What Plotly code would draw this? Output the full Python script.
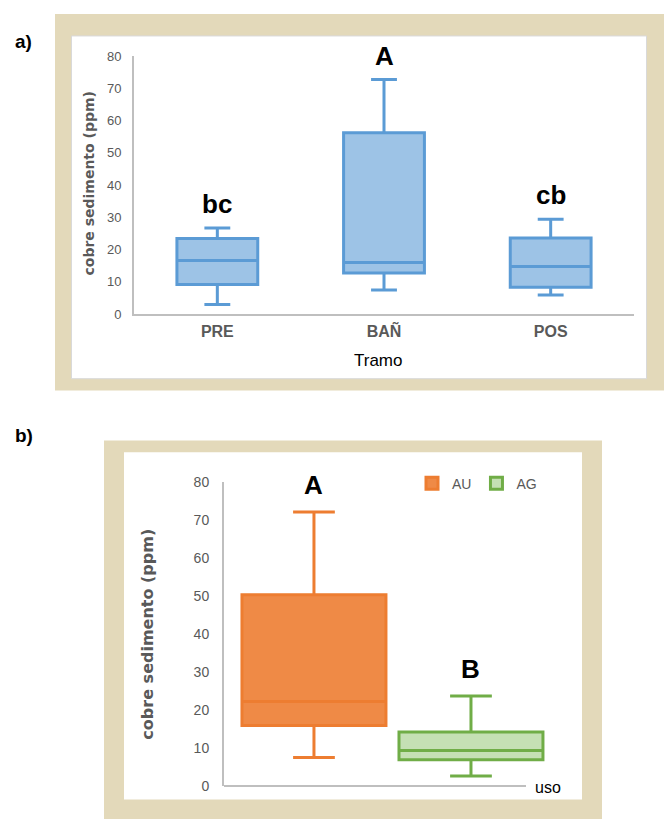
import plotly.graph_objects as go

# ---------------- data ----------------
# panel a) cobre sedimento (ppm) por tramo
tramos = ["PRE", "BAÑ", "POS"]
tramo_q1 = [9.1, 12.7, 8.3]
tramo_median = [16.6, 16.0, 14.7]
tramo_q3 = [23.4, 56.2, 23.6]
tramo_low = [2.9, 7.4, 5.9]
tramo_high = [26.7, 72.7, 29.4]
tramo_letters = ["bc", "A", "cb"]

# panel b) cobre sedimento (ppm) por uso
usos = ["AU", "AG"]
uso_q1 = [15.9, 6.9]
uso_median = [22.2, 9.3]
uso_q3 = [50.3, 14.2]
uso_low = [7.5, 2.6]
uso_high = [72.1, 23.7]
uso_letters = ["A", "B"]

y_ticks = [0, 10, 20, 30, 40, 50, 60, 70, 80]

# ---------------- styling ----------------
W, H = 664, 827
def px(x):
    return x / W
def py(y):
    return 1 - y / H

BEIGE = "#e3d9ba"
GRAY_TXT = "#595959"
AXIS_GRAY = "#bfbfbf"
BLUE_FILL = "#9dc3e6"
BLUE_LINE = "#5b9bd5"
uso_fill = ["#ef8a46", "#c5e0b4"]
uso_line = ["#ed7d31", "#70ad47"]

fig = go.Figure()

fig.add_trace(go.Box(
    x=tramos, q1=tramo_q1, median=tramo_median, q3=tramo_q3,
    lowerfence=tramo_low, upperfence=tramo_high,
    boxpoints=False, width=0.485, whiskerwidth=0.32,
    fillcolor=BLUE_FILL, line=dict(color=BLUE_LINE, width=3),
    xaxis="x", yaxis="y", showlegend=False, hoverinfo="skip",
))

for i, u in enumerate(usos):
    fig.add_trace(go.Box(
        x=[u], q1=[uso_q1[i]], median=[uso_median[i]], q3=[uso_q3[i]],
        lowerfence=[uso_low[i]], upperfence=[uso_high[i]],
        boxpoints=False, width=0.917, whiskerwidth=0.29,
        fillcolor=uso_fill[i], line=dict(color=uso_line[i], width=3),
        name=u, xaxis="x2", yaxis="y2", showlegend=True,
    ))

letter_font = dict(family="Liberation Sans", size=26, color="black", weight="bold")

annotations = []
for i, t in enumerate(tramos):
    annotations.append(dict(
        x=t, y=tramo_high[i], xref="x", yref="y", text=tramo_letters[i],
        showarrow=False, xanchor="center", yanchor="bottom", yshift=7, font=letter_font,
    ))
for i, u in enumerate(usos):
    annotations.append(dict(
        x=u, y=uso_high[i], xref="x2", yref="y2", text=uso_letters[i],
        showarrow=False, xanchor="center", yanchor="bottom", yshift=10, font=letter_font,
    ))

def label(x, y, text, font, angle=0):
    return dict(x=px(x), y=py(y), xref="paper", yref="paper", text=text,
                textangle=angle, showarrow=False, xanchor="center", yanchor="middle",
                font=font)

annotations += [
    label(89, 179, "cobre sedimento (ppm)",
          dict(family="DejaVu Sans", size=14, color=GRAY_TXT, weight="bold"), -90),
    label(378, 359, "Tramo", dict(family="Liberation Sans", size=17, color="black")),
    label(148, 639, "cobre sedimento (ppm)",
          dict(family="DejaVu Sans", size=16, color=GRAY_TXT, weight="bold"), -90),
    label(548, 795, "uso", dict(family="Liberation Sans", size=16, color="black")),
    label(23, 34, "a)", dict(family="Liberation Sans", size=19, color="black", weight="bold")),
    label(24, 436, "b)", dict(family="Liberation Sans", size=19, color="black", weight="bold")),
]

shapes = [
    # panel a frame
    dict(type="rect", xref="paper", yref="paper", x0=px(55), x1=px(664), y0=py(390), y1=py(6),
         fillcolor=BEIGE, line=dict(width=0), layer="below"),
    dict(type="rect", xref="paper", yref="paper", x0=px(71.5), x1=px(646.5), y0=py(378), y1=py(28.5),
         fillcolor="white", line=dict(width=1, color="#d9d9d9"), layer="below"),
    # panel b frame
    dict(type="rect", xref="paper", yref="paper", x0=px(104), x1=px(602), y0=py(827), y1=py(441),
         fillcolor=BEIGE, line=dict(width=0), layer="below"),
    dict(type="rect", xref="paper", yref="paper", x0=px(124), x1=px(582), y0=py(807), y1=py(453),
         fillcolor="white", line=dict(width=0), layer="below"),
    # panel b baseline (x axis line)
    dict(type="line", xref="paper", yref="paper", x0=px(224), x1=px(526), y0=py(793.3), y1=py(793.3),
         line=dict(width=2, color=AXIS_GRAY), layer="below"),
]

tick_font_a = dict(family="Liberation Sans", size=13, color=GRAY_TXT)
tick_font_b = dict(family="Liberation Sans", size=14, color=GRAY_TXT)

fig.update_layout(
    width=W, height=H,
    margin=dict(l=0, r=0, t=0, b=0),
    paper_bgcolor="white", plot_bgcolor="rgba(0,0,0,0)",
    annotations=annotations, shapes=shapes,
    xaxis=dict(domain=[px(134), px(634)], anchor="y", type="category",
               range=[-0.5, 2.5], showline=True, linecolor=AXIS_GRAY, linewidth=2,
               showgrid=False, zeroline=False, ticks="", ticklabelstandoff=2,
               tickfont=dict(family="Liberation Sans", size=16, color=GRAY_TXT, weight="bold")),
    yaxis=dict(domain=[py(312), py(49)], anchor="x", range=[0, 80], tickvals=y_ticks,
               showline=True, linecolor=AXIS_GRAY, linewidth=2, showgrid=False,
               zeroline=False, ticks="", ticklabelstandoff=8, tickfont=tick_font_a),
    xaxis2=dict(domain=[px(224), px(560)], anchor="y2", type="category",
                range=[-0.573, 1.567], showline=False, showgrid=False, zeroline=False,
                showticklabels=False, ticks=""),
    yaxis2=dict(domain=[py(793.3), py(483.3)], anchor="x2", range=[0, 80], tickvals=y_ticks,
                showline=True, linecolor=AXIS_GRAY, linewidth=2, showgrid=False,
                zeroline=False, ticks="", ticklabelstandoff=10, tickfont=tick_font_b),
    legend=dict(orientation="h", x=px(412), y=py(485), xanchor="left", yanchor="middle",
                font=dict(family="Liberation Sans", size=14, color=GRAY_TXT),
                bgcolor="rgba(0,0,0,0)"),
)

fig.write_html("out.html")
